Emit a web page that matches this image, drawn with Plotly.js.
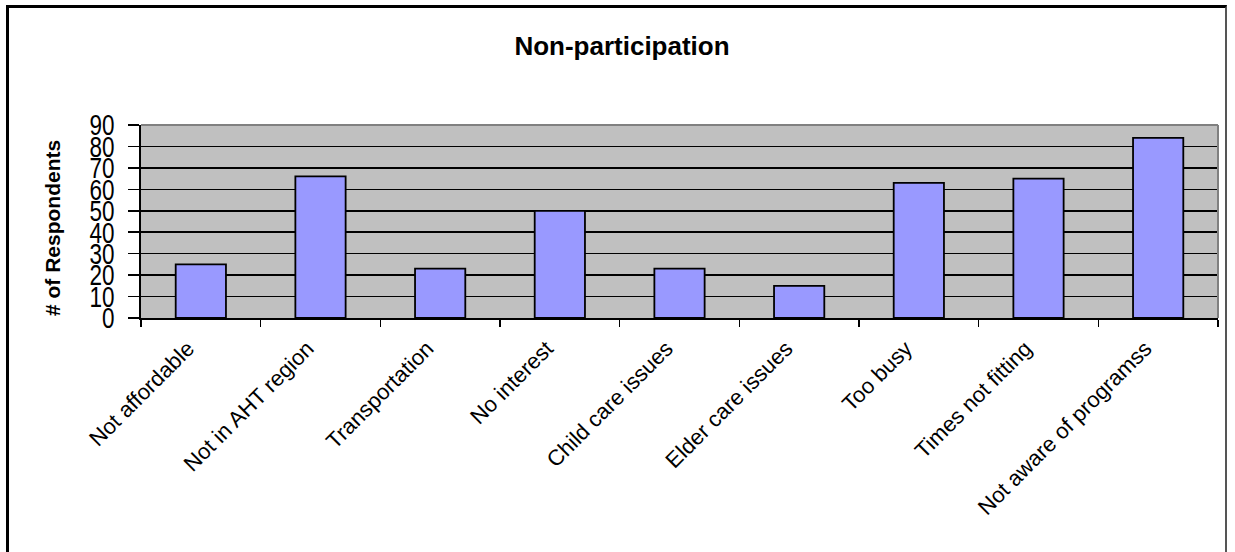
<!DOCTYPE html>
<html>
<head>
<meta charset="utf-8">
<script src="https://cdn.plot.ly/plotly-3.0.1.min.js"></script>
<style>
  html, body { margin: 0; padding: 0; background: #ffffff; }
  #wrap { position: relative; width: 1235px; height: 552px; }
  #chart { position: absolute; left: 0; top: 0; width: 1235px; height: 552px; }
  #frame { position: absolute; left: 6px; top: 5px; width: 1221px; height: 560px;
           border-top: 3px solid #000; border-left: 3px solid #000; border-right: 2px solid #555;
           pointer-events: none; box-sizing: border-box; }
</style>
</head>
<body>
<div id="wrap">
  <div id="chart"></div>
  <div id="frame"></div>
</div>
<script>
const categories = ["Not affordable", "Not in AHT region", "Transportation", "No interest",
                    "Child care issues", "Elder care issues", "Too busy", "Times not fitting",
                    "Not aware of programss"];
const respondents = [25, 66, 23, 50, 23, 15, 63, 65, 84];
const yTicks = [0, 10, 20, 30, 40, 50, 60, 70, 80, 90];
const chartTitle = "Non-participation";
const yTitle = "# of Respondents";

const FONT = "Liberation Sans, Arial, Helvetica, sans-serif";
const Y_TICK_SIZE = 22.5;
const Y_STRETCH = 1.3;

const trace = {
  type: "bar",
  x: categories,
  y: respondents,
  marker: { color: "#9999FF", line: { color: "#000000", width: 1.8 } },
  hoverinfo: "x+y"
};

const layout = {
  width: 1235,
  height: 552,
  margin: { l: 141, r: 17, t: 125, b: 234, pad: 0 },
  paper_bgcolor: "#ffffff",
  plot_bgcolor: "#C0C0C0",
  bargap: 0.58,
  showlegend: false,
  font: { family: FONT, color: "#000000" },
  title: {
    text: "<b>" + chartTitle + "</b>",
    font: { family: FONT, size: 26, color: "#000000" },
    x: 622 / 1235, xanchor: "center", xref: "container",
    y: 1 - 46 / 552, yanchor: "middle", yref: "container"
  },
  xaxis: {
    type: "category",
    tickson: "boundaries",
    ticks: "outside",
    ticklen: 7,
    tickwidth: 1.5,
    tickcolor: "#000000",
    ticklabelshift: -13,
    ticklabelstandoff: 7,
    showline: true,
    linecolor: "#000000",
    linewidth: 2,
    showgrid: false,
    tickangle: -45,
    tickfont: { family: FONT, size: 22, color: "#000000" },
    fixedrange: true
  },
  yaxis: {
    range: [0, 90],
    tickmode: "array",
    tickvals: yTicks,
    ticktext: yTicks.map(String),
    ticks: "outside",
    ticklen: 11,
    tickwidth: 1.5,
    tickcolor: "#000000",
    ticklabelstandoff: 9,
    showline: true,
    linecolor: "#000000",
    linewidth: 2,
    showgrid: true,
    gridcolor: "#000000",
    gridwidth: 1.5,
    zeroline: false,
    tickfont: { family: FONT, size: Y_TICK_SIZE, color: "#000000" },
    fixedrange: true
  },
  shapes: [
    { type: "line", xref: "paper", yref: "paper", x0: 0, x1: 1, y0: 1, y1: 1,
      line: { color: "#808080", width: 2 }, layer: "above" },
    { type: "line", xref: "paper", yref: "paper", x0: 1, x1: 1, y0: 0, y1: 1,
      line: { color: "#808080", width: 2 }, layer: "above" }
  ],
  annotations: [
    {
      text: "<b>" + yTitle + "</b>",
      textangle: -90,
      xref: "paper", yref: "paper",
      x: (52 - 141) / 1077, y: (318 - 228) / 193,
      xanchor: "center", yanchor: "middle",
      showarrow: false,
      font: { family: FONT, size: 21, color: "#000000" }
    }
  ]
};

Plotly.newPlot("chart", [trace], layout, { staticPlot: true, displayModeBar: false }).then(function (gd) {
  // The reference's y tick numerals are drawn tall and narrow: stretch them vertically around their centre.
  gd.querySelectorAll(".ytick text").forEach(function (t) {
    const orig = t.getAttribute("transform") || "";
    const y = parseFloat(t.getAttribute("y") || "0");
    const cy = y - 0.358 * Y_TICK_SIZE;
    t.setAttribute("transform", orig + " translate(0," + cy + ") scale(1," + Y_STRETCH + ") translate(0," + (-cy) + ")");
  });
});
</script>
</body>
</html>
